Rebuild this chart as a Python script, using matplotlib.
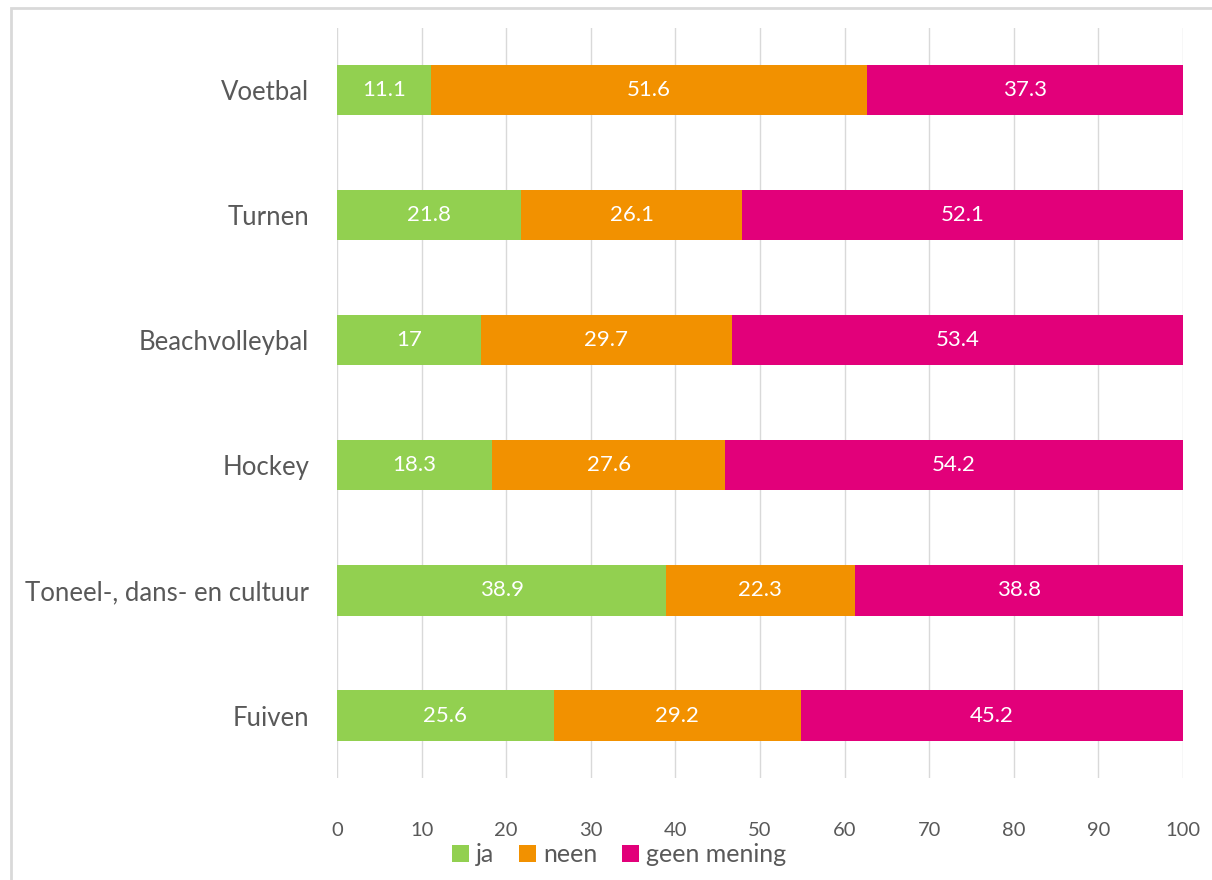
import numpy as np
import matplotlib.pyplot as plt
from matplotlib.patches import Rectangle

categories = ["Voetbal", "Turnen", "Beachvolleybal", "Hockey",
              "Toneel-, dans- en cultuur", "Fuiven"]
ja = [11.1, 21.8, 17, 18.3, 38.9, 25.6]
neen = [51.6, 26.1, 29.7, 27.6, 22.3, 29.2]
geen_mening = [37.3, 52.1, 53.4, 54.2, 38.8, 45.2]

series = [("ja", ja, "#92D050"), ("neen", neen, "#F29100"),
          ("geen mening", geen_mening, "#E2007A")]

plt.rcParams['font.family'] = ['Lato', 'DejaVu Sans']
grey = "#595959"

fig = plt.figure(figsize=(12.12, 8.8), dpi=100)
ax = fig.add_axes([337 / 1212, 1 - 778 / 880, (1183 - 337) / 1212, 750 / 880])

y = np.arange(len(categories))
left = np.zeros(len(categories))
for name, vals, col in series:
    vals = np.array(vals, dtype=float)
    bars = ax.barh(y, vals, left=left, height=0.4, color=col, label=name, zorder=3)
    labels = [("%g" % v) for v in vals]
    ax.bar_label(bars, labels=labels, label_type='center', color='white', fontsize=16)
    left += vals

ax.set_xlim(0, 100)
ax.set_ylim(len(categories) - 0.5, -0.5)
ax.set_xticks(range(0, 101, 10))
ax.set_yticks(y)
ax.set_yticklabels(categories, fontsize=18.5, color=grey)
ax.tick_params(axis='x', labelsize=14.5, colors=grey, length=0, pad=32)
ax.tick_params(axis='y', length=0, pad=20)
ax.grid(axis='x', color='#D9D9D9', linewidth=1, zorder=0)
for s in ax.spines.values():
    s.set_visible(False)

fig.patches.append(Rectangle((11 / 1212, -0.1), 1.2, 1 - 8 / 880 + 0.1,
                             transform=fig.transFigure, fill=False,
                             edgecolor='#D9D9D9', linewidth=2))

leg = fig.legend(loc='center', bbox_to_anchor=(0.511, 0.029), ncol=3, frameon=False,
                 fontsize=18, handlelength=0.65, handleheight=0.65, handletextpad=0.3,
                 columnspacing=1.0, labelcolor=grey)

fig.savefig('out.png', dpi=100)
